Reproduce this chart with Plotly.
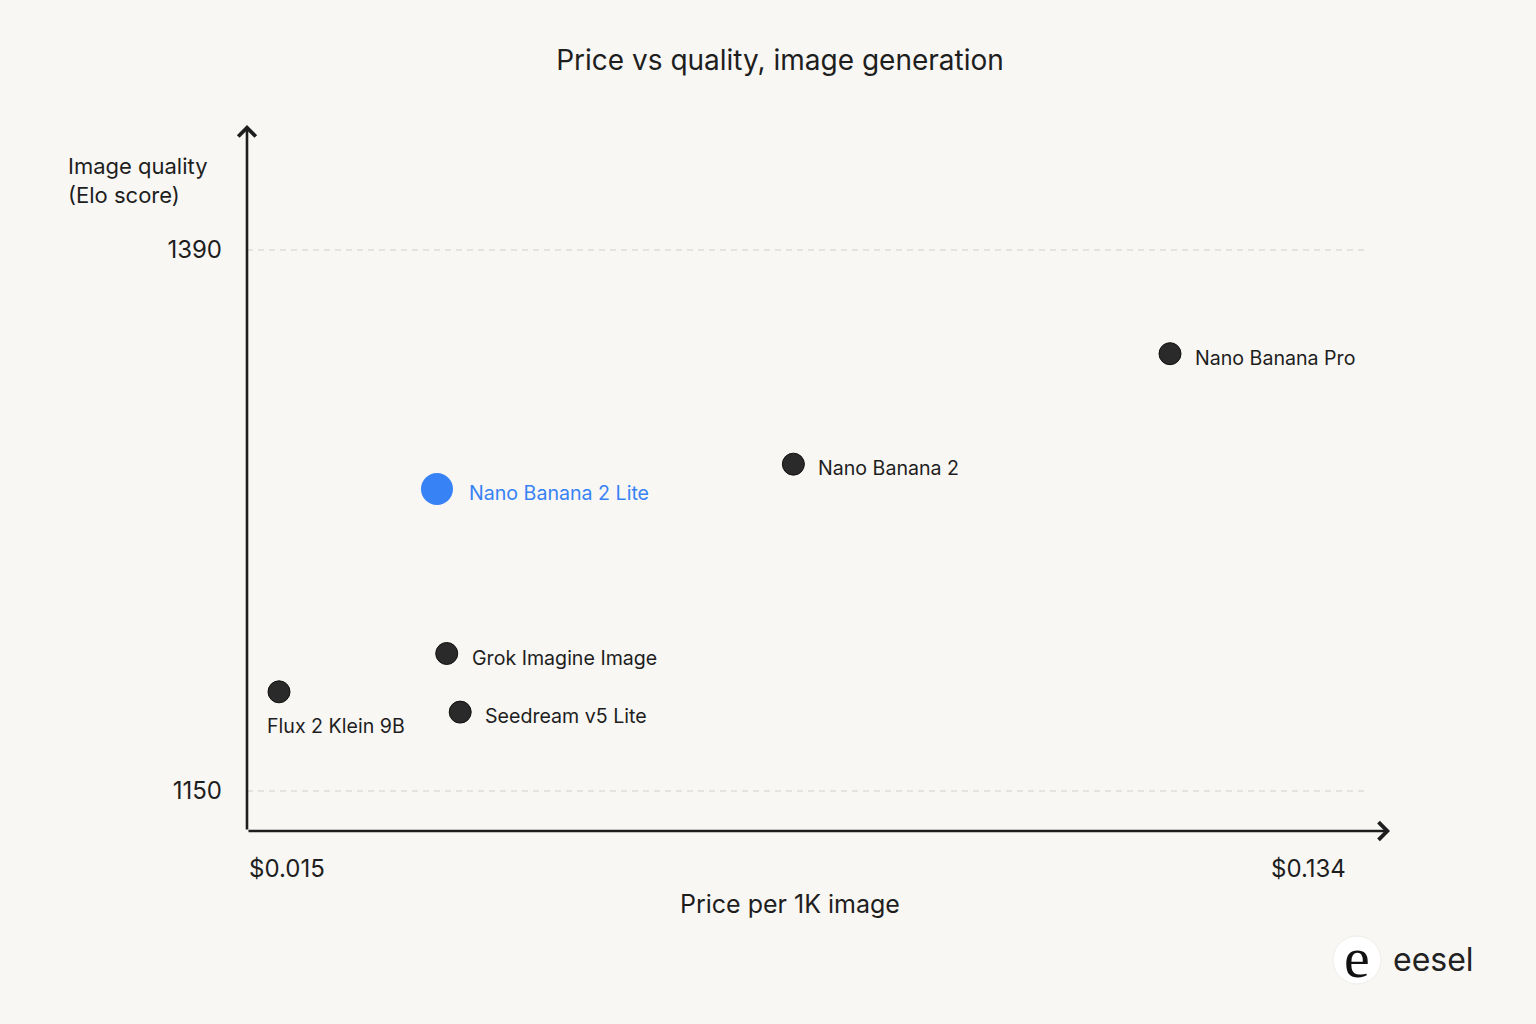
import plotly.graph_objects as go

# ---- data ----
models = ["Nano Banana Pro", "Nano Banana 2", "Nano Banana 2 Lite",
          "Grok Imagine Image", "Seedream v5 Lite", "Flux 2 Klein 9B"]
price = [0.134, 0.0837, 0.0361, 0.0374, 0.0392, 0.015]
elo = [1344, 1295, 1284, 1211, 1185, 1194]
highlight = [False, False, True, False, False, False]
y_ticks = [1150, 1390]
x_tick_labels = ["$0.015", "$0.134"]

BG = "#F8F7F4"
DARK = "#1E1E1E"
BLUE = "#3782F5"
FONT = "Inter"

W, H = 1536, 1024
L, R, T, B = 247, 1390, 125, 831
PW, PH = R - L, B - T

def px(x):
    return (x - L) / PW

def py(y):
    return (B - y) / PH

fig = go.Figure()

dark_x = [p for p, h in zip(price, highlight) if not h]
dark_y = [e for e, h in zip(elo, highlight) if not h]
hi_x = [p for p, h in zip(price, highlight) if h]
hi_y = [e for e, h in zip(elo, highlight) if h]

fig.add_trace(go.Scatter(x=dark_x, y=dark_y, mode="markers",
                         marker=dict(size=22, color="#2A2A2A",
                                     line=dict(color="#111", width=1)),
                         hoverinfo="skip", showlegend=False))
fig.add_trace(go.Scatter(x=hi_x, y=hi_y, mode="markers",
                         marker=dict(size=32, color=BLUE, line=dict(width=0)),
                         hoverinfo="skip", showlegend=False))

annotations = []
for m, p, e, h in zip(models, price, elo, highlight):
    if m.startswith("Flux"):
        annotations.append(dict(x=p, y=e, xref="x", yref="y", text=m,
                                showarrow=False, xanchor="left", yanchor="middle",
                                xshift=-14, yshift=-34,
                                font=dict(family=FONT, size=19.6, color=DARK)))
    else:
        annotations.append(dict(x=p, y=e, xref="x", yref="y", text=m,
                                showarrow=False, xanchor="left", yanchor="middle",
                                xshift=30 if h else 23, yshift=-4,
                                font=dict(family=FONT, size=19.6,
                                          color=BLUE if h else DARK)))

# axis arrows
annotations.append(dict(x=0, y=1, xref="paper", yref="paper", text="",
                        showarrow=True, ax=0, ay=PH, axref="pixel", ayref="pixel",
                        arrowhead=4, arrowsize=1.3, arrowwidth=2.6, arrowcolor=DARK))
annotations.append(dict(x=1, y=0, xref="paper", yref="paper", text="",
                        showarrow=True, ax=-PW, ay=0, axref="pixel", ayref="pixel",
                        arrowhead=4, arrowsize=1.3, arrowwidth=2.6, arrowcolor=DARK))

# x tick labels at axis ends
annotations.append(dict(x=0, y=0, xref="paper", yref="paper", text=x_tick_labels[0],
                        showarrow=False, xanchor="left", yanchor="middle", yshift=-37,
                        font=dict(family=FONT, size=24, color=DARK)))
annotations.append(dict(x=px(1348), y=0, xref="paper", yref="paper", text=x_tick_labels[1],
                        showarrow=False, xanchor="right", yanchor="middle", yshift=-37,
                        font=dict(family=FONT, size=24, color=DARK)))

# axis titles
annotations.append(dict(x=px(790), y=py(904), xref="paper", yref="paper",
                        text="Price per 1K image", showarrow=False,
                        xanchor="center", yanchor="middle",
                        font=dict(family=FONT, size=25, color=DARK)))
annotations.append(dict(x=px(66), y=py(180), xref="paper", yref="paper",
                        text="Image quality<br>(Elo score)", showarrow=False,
                        xanchor="left", yanchor="middle", align="left",
                        font=dict(family=FONT, size=22, color=DARK)))

# logo
annotations.append(dict(x=px(1357), y=py(957), xref="paper", yref="paper",
                        text="e", showarrow=False, xanchor="center", yanchor="middle",
                        font=dict(family="Liberation Serif", size=58, color="#111")))
annotations.append(dict(x=px(1391), y=py(959), xref="paper", yref="paper",
                        text="eesel", showarrow=False, xanchor="left", yanchor="middle",
                        font=dict(family=FONT, size=32, color="#222")))

shapes = []
for v in y_ticks:
    shapes.append(dict(type="line", xref="paper", yref="y", x0=0, x1=px(1365),
                       y0=v, y1=v, line=dict(color="#CFCFCB", width=1, dash="6px,5px"),
                       layer="below"))
shapes.append(dict(type="circle", xref="paper", yref="paper",
                   x0=px(1333), x1=px(1381), y0=py(984), y1=py(936),
                   fillcolor="#FFFFFF", line=dict(color="#EEEDEA", width=1),
                   layer="below"))

x_lo = 0.015 - (279 - L) / 891 * 0.119
x_hi = 0.134 + (R - 1170) / 891 * 0.119
y_lo = 1150 - (B - 791) / 541 * 240
y_hi = 1390 + (250 - T) / 541 * 240

fig.update_layout(
    width=W, height=H,
    margin=dict(l=L, r=W - R, t=T, b=H - B, pad=0),
    paper_bgcolor=BG, plot_bgcolor=BG,
    title=dict(text="Price vs quality, image generation", x=780 / W, xref="container",
               xanchor="center", y=1 - 60 / H, yref="container", yanchor="middle",
               font=dict(family=FONT, size=28, color=DARK)),
    xaxis=dict(range=[x_lo, x_hi], showgrid=False, zeroline=False,
               showticklabels=False, showline=False, fixedrange=True),
    yaxis=dict(range=[y_lo, y_hi], showgrid=False, zeroline=False,
               tickvals=y_ticks, ticktext=[str(v) for v in y_ticks],
               ticks="", ticklabelstandoff=24, showline=False,
               tickfont=dict(family=FONT, size=24, color=DARK), fixedrange=True),
    annotations=annotations, shapes=shapes,
    showlegend=False,
)

fig.write_html("out.html", config={"displayModeBar": False},
               post_script="document.body.style.margin='0';document.body.style.overflow='hidden';")
